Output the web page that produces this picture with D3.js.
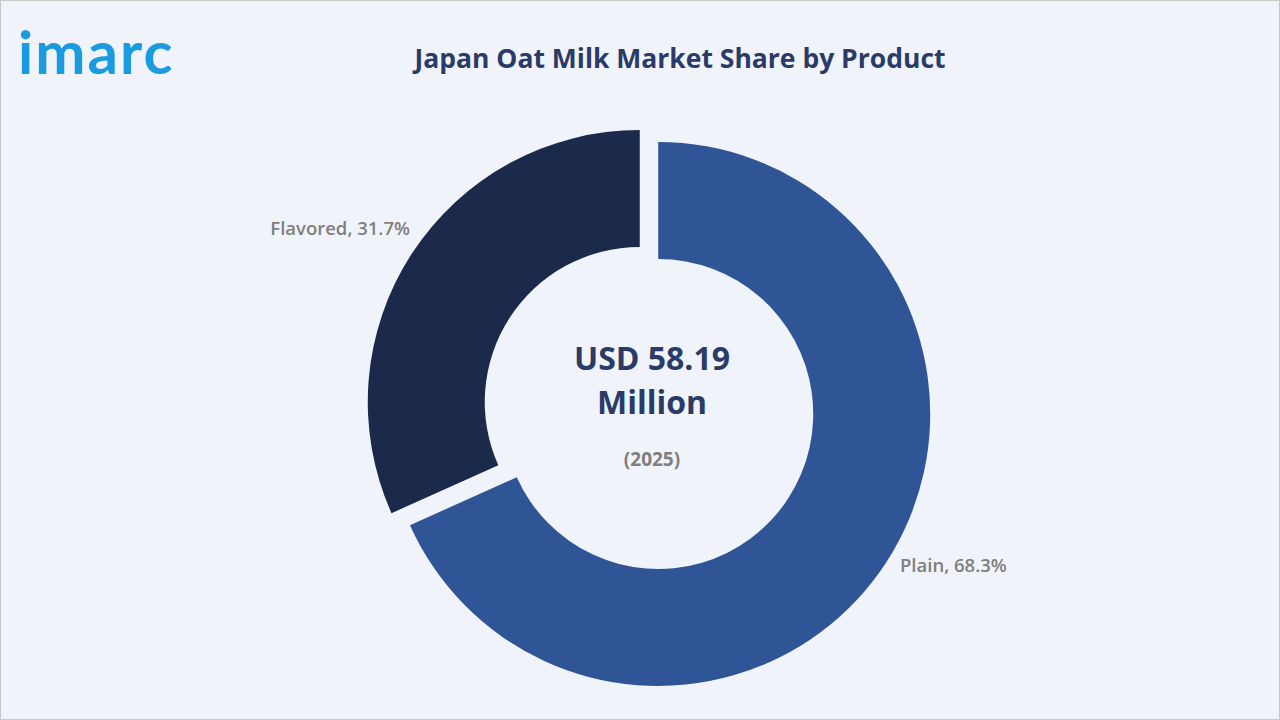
<!DOCTYPE html>
<html><head><meta charset="utf-8">
<script src="https://cdn.jsdelivr.net/npm/d3@7"></script>
<style>body{margin:0;background:#fff}svg{display:block}</style>
</head><body>
<svg id="chart" width="1280" height="720"></svg>
<script>
// data
var categories = ["Plain", "Flavored"];
var shares = [68.3, 31.7];
var colors = ["#2f5597", "#1b2a4a"];

var svg = d3.select("#chart");
svg.append("rect").attr("x", 0.5).attr("y", 0.5).attr("width", 1279).attr("height", 719)
  .attr("fill", "#f0f4fa").attr("stroke", "#c8c8c8");

// logo
svg.append("text").attr("x", 18).attr("y", 74).attr("font-family", "Lato, sans-serif")
  .attr("font-size", 60).attr("font-weight", 700).attr("letter-spacing", 2)
  .attr("fill", "#1a9be0").text("imarc");

svg.append("text").attr("x", 680).attr("y", 68).attr("text-anchor", "middle")
  .attr("font-family", "Open Sans, sans-serif").attr("font-size", 26.5).attr("font-weight", 700)
  .attr("fill", "#2b3b67").text("Japan Oat Milk Market Share by Product");

var cx = 649, cy = 408, R = 272, r = 155, off = 11;
var pie = d3.pie().sort(null).value(function(d) { return d; });
var arc = d3.arc().innerRadius(r).outerRadius(R);
var arcs = pie(shares);

var g = svg.append("g").attr("transform", "translate(" + cx + "," + cy + ")");
g.selectAll("path").data(arcs).enter().append("path")
  .attr("d", arc)
  .attr("fill", function(d, i) { return colors[i]; })
  .attr("transform", function(d) {
    var a = (d.startAngle + d.endAngle) / 2;
    return "translate(" + (Math.sin(a) * off) + "," + (-Math.cos(a) * off) + ")";
  });

// labels
var labelPos = [[900, 572, "start"], [410, 235, "end"]];
categories.forEach(function(c, i) {
  svg.append("text").attr("x", labelPos[i][0]).attr("y", labelPos[i][1])
    .attr("text-anchor", labelPos[i][2]).attr("font-family", "Open Sans, sans-serif")
    .attr("font-size", 18.5).attr("font-weight", 600).attr("fill", "#7f7f7f")
    .text(c + ", " + shares[i] + "%");
});

// center text
var ct = [["USD 58.19", 370, 32, "#2b3b67", 700], ["Million", 414, 32, "#2b3b67", 700], ["(2025)", 466, 19, "#7f7f7f", 700]];
ct.forEach(function(t) {
  svg.append("text").attr("x", 652).attr("y", t[1]).attr("text-anchor", "middle")
    .attr("font-family", "Open Sans, sans-serif").attr("font-size", t[2])
    .attr("font-weight", t[4]).attr("fill", t[3]).text(t[0]);
});
</script>
</body></html>
